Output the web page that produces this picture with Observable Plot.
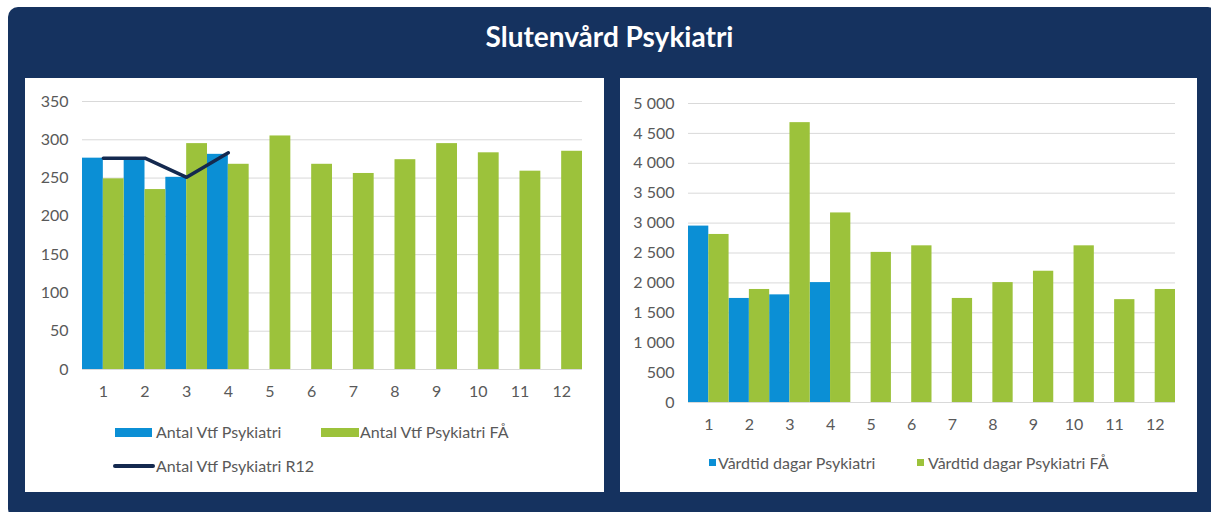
<!DOCTYPE html>
<html>
<head>
<meta charset="utf-8">
<script src="https://cdn.jsdelivr.net/npm/d3@7"></script>
<script src="https://cdn.jsdelivr.net/npm/@observablehq/plot@0.6"></script>
<style>
  html, body { margin: 0; padding: 0; background: #ffffff; width: 1211px; height: 512px; overflow: hidden; font-family: Lato, "Open Sans", sans-serif; }
  #frame { position: absolute; left: 8px; top: 7px; width: 1210px; height: 512px; background: #15325f; border-radius: 10px; }
  #title { position: absolute; left: 8px; width: 1203px; top: 19px; text-align: center; color: #ffffff; font-weight: bold; font-size: 28px; }
  .panel { position: absolute; top: 78px; height: 414px; background: #ffffff; }
  .panel svg { position: absolute; left: 0; top: 0; }
  .leg { position: absolute; font-size: 16px; color: #595959; white-space: nowrap; line-height: 18px; }
  .sw { position: absolute; }
</style>
</head>
<body>
<div id="frame"></div>
<div id="title">Slutenvård Psykiatri</div>
<div class="panel" id="left" style="left:25px;width:579px;"></div>
<div class="panel" id="right" style="left:620px;width:577px;"></div>
<script>
const months = ["1","2","3","4","5","6","7","8","9","10","11","12"];

// Left chart: Antal Vtf
const antalLabel = "Antal Vtf Psykiatri";
const antalFALabel = "Antal Vtf Psykiatri FÅ";
const antalR12Label = "Antal Vtf Psykiatri R12";
const antalVtf = [276, 275, 251, 281];
const antalVtfFA = [249, 235, 295, 268, 305, 268, 256, 274, 295, 283, 259, 285];
const antalVtfR12 = [276, 276, 251, 283];
const leftTicks = [0, 50, 100, 150, 200, 250, 300, 350];

// Right chart: Vårdtid dagar
const vardLabel = "Vårdtid dagar Psykiatri";
const vardFALabel = "Vårdtid dagar Psykiatri FÅ";
const vardtid = [2950, 1740, 1800, 2005];
const vardtidFA = [2810, 1890, 4680, 3170, 2510, 2620, 1740, 2005, 2195, 2620, 1720, 1890];
const rightTicks = [0, 500, 1000, 1500, 2000, 2500, 3000, 3500, 4000, 4500, 5000];

const BLUE = "#0b8fd5";
const GREEN = "#9cc23b";
const NAVY = "#14294f";
const GRID = "#d9d9d9";
const TXT = "#595959";

const sv = d3.formatLocale({decimal: ",", thousands: " ", grouping: [3], currency: ["", " kr"]});
const fmtSpace = sv.format(",");

function toRows(vals) { return vals.map((v, i) => ({month: months[i], value: v})); }

function chart({width, height, mt, mb, ml, mr, domainMax, ticks, fmt, s1, s2, line}) {
  const bw = (width - ml - mr) / months.length;
  const marks = [
    Plot.gridY(ticks, {stroke: GRID, strokeOpacity: 1, strokeWidth: 1}),
    Plot.barY(toRows(s1), {x: "month", y: "value", fill: BLUE, insetLeft: 0, insetRight: bw / 2}),
    Plot.barY(toRows(s2), {x: "month", y: "value", fill: GREEN, insetLeft: bw / 2, insetRight: 0}),
    Plot.ruleY([0], {stroke: GRID, strokeWidth: 1}),
    Plot.axisY(ticks, {tickSize: 0, tickPadding: 14, tickFormat: fmt, fontSize: 16, fill: TXT, label: null}),
    Plot.axisX(months, {tickSize: 0, tickPadding: 16, fontSize: 16, fill: TXT, label: null})
  ];
  if (line) marks.push(Plot.lineY(toRows(line), {x: "month", y: "value", stroke: NAVY, strokeWidth: 3.5}));
  return Plot.plot({
    width, height,
    marginTop: mt, marginBottom: mb, marginLeft: ml, marginRight: mr,
    style: {fontFamily: "Lato, 'Open Sans', sans-serif", background: "transparent", overflow: "visible"},
    x: {type: "band", domain: months, padding: 0, round: false, axis: null},
    y: {domain: [0, domainMax], axis: null},
    marks
  });
}

const leftEl = document.getElementById("left");
leftEl.append(chart({width: 579, height: 330, mt: 23, mb: 39, ml: 57, mr: 22, domainMax: 350,
  ticks: leftTicks, fmt: d => String(d), s1: antalVtf, s2: antalVtfFA, line: antalVtfR12}));

const rightEl = document.getElementById("right");
rightEl.append(chart({width: 577, height: 360, mt: 25, mb: 36, ml: 68, mr: 22, domainMax: 5000,
  ticks: rightTicks, fmt: fmtSpace, s1: vardtid, s2: vardtidFA, line: null}));

function addLegend(el, items) {
  for (const it of items) {
    const sw = document.createElement("div");
    sw.className = "sw";
    Object.assign(sw.style, {left: it.sx + "px", top: it.sy + "px", width: it.sw + "px", height: it.sh + "px", background: it.color, borderRadius: it.r || "0"});
    el.append(sw);
    const t = document.createElement("div");
    t.className = "leg";
    t.textContent = it.text;
    Object.assign(t.style, {left: it.tx + "px", top: it.ty + "px"});
    el.append(t);
  }
}
addLegend(leftEl, [
  {color: BLUE, sx: 90, sy: 350, sw: 37, sh: 9, text: antalLabel, tx: 131, ty: 345},
  {color: GREEN, sx: 296, sy: 350, sw: 38, sh: 9, text: antalFALabel, tx: 335, ty: 345},
  {color: NAVY, sx: 88, sy: 386, sw: 42, sh: 3.5, r: "2px", text: antalR12Label, tx: 131, ty: 379}
]);
addLegend(rightEl, [
  {color: BLUE, sx: 89, sy: 381, sw: 7, sh: 7, text: vardLabel, tx: 98, ty: 376},
  {color: GREEN, sx: 297, sy: 381, sw: 7, sh: 7, text: vardFALabel, tx: 308, ty: 376}
]);
</script>
</body>
</html>
